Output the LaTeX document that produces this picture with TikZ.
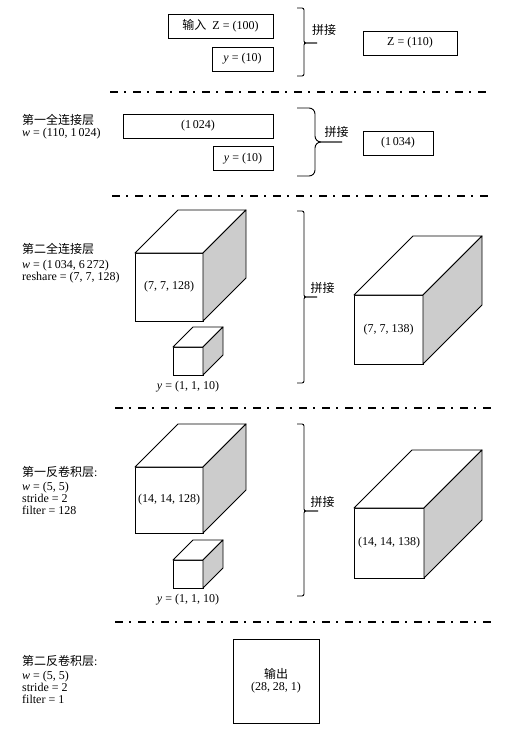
\documentclass[tikz,border=0pt]{standalone}
\usepackage{fontspec}
\setmainfont{Liberation Serif}
\newfontfamily\cjk{Noto Sans CJK SC}
\usetikzlibrary{positioning}
\definecolor{sidegray}{HTML}{CCCCCC}

\begin{document}
\begin{tikzpicture}[x=1pt,y=-1pt,
  font=\fontsize{12}{12}\selectfont,
  box/.style={draw,line width=0.8pt,minimum height=24pt,inner sep=0pt},
  face/.style={draw,fill=white,line width=0.9pt,inner sep=0pt,outer sep=0pt},
  edge/.style={line width=0.9pt,line join=round},
  txt/.style={align=left,anchor=west,inner sep=0pt},
  brc/.style={line width=0.9pt},
  sep/.style={line width=2.4pt,dash pattern=on 8pt off 6pt on 2pt off 7pt},
  node distance=3pt
]
\useasboundingbox (0,0) rectangle (516,731);

% input + label
\node[box,minimum width=105pt] (zin) at (220.5,26) {{\cjk 输入}\ \ Z = (100)};
\node[box,minimum width=61pt] (yin) at (242.5,59) {\textit{y} = (10)};
\node[box,minimum width=94pt] (zcat) at (410,43) {Z = (110)};
\draw[brc,rounded corners=2pt] (297,8) -- (304,8) -- (304,43) -- (317,43);
\draw[brc,rounded corners=2pt] (297,76) -- (304,76) -- (304,43) -- (317,43);
\node (cat1) at (324,30) {\cjk 拼接};
\draw[sep] (110,92) -- (491,92);

% first fully connected layer
\node[txt] (fc1) at (22,126.5) {{\cjk 第一全连接层}\\\textit{w} = (110, 1\,024)};
\node[box,minimum width=150pt] (h1) at (198,126) {(1\,024)};
\node[box,minimum width=60pt] (yfc) at (243,158.5) {\textit{y} = (10)};
\node[box,minimum width=70pt] (hcat) at (398,143) {(1\,034)};
\draw[brc,rounded corners=6pt] (297,108) -- (315,108) -- (315,142) -- (342,142);
\draw[brc,rounded corners=6pt] (297,176) -- (315,176) -- (315,142) -- (342,142);
\node (cat2) at (336.5,132) {\cjk 拼接};
\draw[sep] (112,196) -- (492,196);

% second fully connected layer
\node[txt] (fc2) at (22,263) {{\cjk 第二全连接层}\\[3pt]\textit{w} = (1\,034, 6\,272)\\reshare = (7, 7, 128)};
\node[face,minimum width=68pt,minimum height=68pt] (c1) at (169,287) {(7, 7, 128)};
\node[face,minimum width=30pt,minimum height=28pt] (y1) at (188,361) {};
\node[below=of y1] (ylab1) {\textit{y} = (1, 1, 10)};
\node[face,minimum width=69pt,minimum height=69pt] (r1) at (388.5,329.5) {(7, 7, 138)};
\draw[brc,rounded corners=2pt] (297,211) -- (304,211) -- (304,297) -- (317,297);
\draw[brc,rounded corners=2pt] (297,383) -- (304,383) -- (304,297) -- (317,297);
\node (cat3) at (322.5,288) {\cjk 拼接};
\draw[sep] (115,408) -- (493,408);

% first deconvolution layer
\node[txt] (dc1) at (22,490) {{\cjk 第一反卷积层}:\\[2pt]\textit{w} = (5, 5)\\stride = 2\\filter = 128};
\node[face,minimum width=68pt,minimum height=66pt] (c2) at (169,500) {(14, 14, 128)};
\node[face,minimum width=30pt,minimum height=28pt] (y2) at (188,574) {};
\node[below=of y2] (ylab2) {\textit{y} = (1, 1, 10)};
\node[face,minimum width=70pt,minimum height=70pt] (r2) at (389,543) {(14, 14, 138)};
\draw[brc,rounded corners=2pt] (297,424) -- (304,424) -- (304,511) -- (318,511);
\draw[brc,rounded corners=2pt] (297,596) -- (304,596) -- (304,511) -- (318,511);
\node (cat4) at (322.5,502) {\cjk 拼接};
\draw[sep] (115,622) -- (493,622);

% second deconvolution layer
\node[txt] (dc2) at (22,679) {{\cjk 第二反卷积层}:\\[2pt]\textit{w} = (5, 5)\\stride = 2\\filter = 1};
\node[face,minimum width=86pt,minimum height=84pt,align=center] (out) at (276,681) {{\cjk 输出}\\(28, 28, 1)};

% top and side of the blocks
\foreach \c/\d in {c1/43,y1/20,r1/59,c2/43,y2/20,r2/58}{
  \draw[edge,fill=white] (\c.north west) -- ([shift={(\d,-\d)}]\c.north west)
    -- ([shift={(\d,-\d)}]\c.north east) -- (\c.north east) -- cycle;
  \draw[edge,fill=sidegray] (\c.north east) -- ([shift={(\d,-\d)}]\c.north east)
    -- ([shift={(\d,-\d)}]\c.south east) -- (\c.south east) -- cycle;
}
\end{tikzpicture}
\end{document}
